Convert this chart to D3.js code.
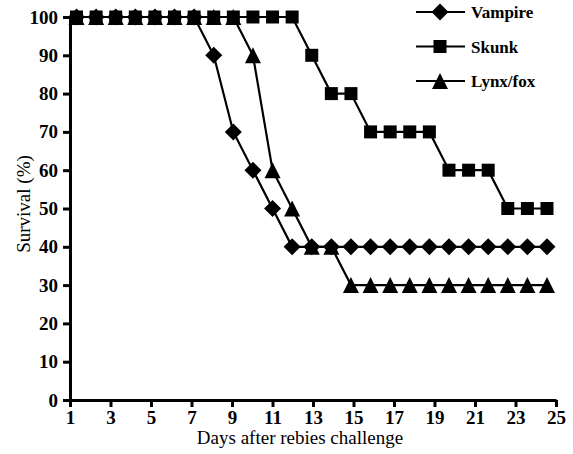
<!DOCTYPE html>
<html>
<head>
<meta charset="utf-8">
<script src="https://cdn.jsdelivr.net/npm/d3@7"></script>
<style>
  body { margin: 0; background: #fff; }
</style>
</head>
<body>
<script>
const days = d3.range(1, 26)
const vampire = [100, 100, 100, 100, 100, 100, 100, 90, 70, 60, 50, 40, 40, 40, 40, 40, 40, 40, 40, 40, 40, 40, 40, 40, 40]
const skunk = [100, 100, 100, 100, 100, 100, 100, 100, 100, 100, 100, 100, 90, 80, 80, 70, 70, 70, 70, 60, 60, 60, 50, 50, 50]
const lynx = [100, 100, 100, 100, 100, 100, 100, 100, 100, 90, 60, 50, 40, 40, 30, 30, 30, 30, 30, 30, 30, 30, 30, 30, 30]
const xTicks = [1, 3, 5, 7, 9, 11, 13, 15, 17, 19, 21, 23, 25]
const yTicks = [0, 10, 20, 30, 40, 50, 60, 70, 80, 90, 100]

const WIDTH = 573
const HEIGHT = 454
const LEFT = 70
const RIGHT = 556
const TOP = 17
const BOTTOM = 400
const FONT = '"Liberation Serif", "Times New Roman", Times, serif'

// marker shapes (size = width in px)
const diamond = { draw(ctx, s) { const r = s / 2; ctx.moveTo(0, -r); ctx.lineTo(r, 0); ctx.lineTo(0, r); ctx.lineTo(-r, 0); ctx.closePath() } }
const square = { draw(ctx, s) { const r = s / 2; ctx.rect(-r, -r, s, s) } }
const triangle = { draw(ctx, s) { const r = s / 2; ctx.moveTo(0, -r); ctx.lineTo(r, r); ctx.lineTo(-r, r); ctx.closePath() } }

const series = [
  { name: 'Vampire', values: vampire, shape: diamond, size: 17 },
  { name: 'Lynx/fox', values: lynx, shape: triangle, size: 16 },
  { name: 'Skunk', values: skunk, shape: square, size: 13 }
]
const legendOrder = ['Vampire', 'Skunk', 'Lynx/fox']

const svg = d3.select('body').append('svg').attr('width', WIDTH).attr('height', HEIGHT)

// axis scale vs. point positions (points sit on category centres)
const xAxisScale = d3.scaleLinear().domain([1, 25]).range([LEFT, RIGHT])
const x = d3.scalePoint().domain(days).range([76.5, 547])
const y = d3.scaleLinear().domain([0, 100]).range([BOTTOM, TOP])

const axisX = d3.axisBottom(xAxisScale).tickValues(xTicks).tickSize(7).tickSizeOuter(0).tickPadding(4)
svg.append('g')
  .attr('transform', `translate(0, ${BOTTOM})`)
  .call(axisX)
  .attr('font-family', FONT)
  .call(g => g.select('.domain').attr('stroke-width', 3))
  .call(g => g.selectAll('.tick line').attr('stroke-width', 3))
  .call(g => g.selectAll('text').attr('font-family', FONT).attr('font-size', 19).attr('font-weight', 'bold').attr('fill', '#000'))

const axisY = d3.axisLeft(y).tickValues(yTicks).tickSize(7).tickSizeOuter(0).tickPadding(5)
svg.append('g')
  .attr('transform', `translate(${LEFT}, 0)`)
  .call(axisY)
  .attr('font-family', FONT)
  .call(g => g.select('.domain').attr('stroke-width', 3))
  .call(g => g.selectAll('.tick line').attr('stroke-width', 3))
  .call(g => g.selectAll('text').attr('font-family', FONT).attr('font-size', 19).attr('font-weight', 'bold').attr('fill', '#000'))

svg.append('text')
  .attr('x', 300).attr('y', 444)
  .attr('text-anchor', 'middle')
  .attr('font-family', FONT)
  .attr('font-size', 19)
  .text('Days after rebies challenge')

svg.append('text')
  .attr('transform', 'translate(30, 204) rotate(-90)')
  .attr('text-anchor', 'middle')
  .attr('font-family', FONT)
  .attr('font-size', 19)
  .text('Survival (%)')

const line = d3.line().x((d, i) => x(days[i])).y(d => y(d))

series.forEach(s => {
  const g = svg.append('g')
  g.append('path')
    .attr('d', line(s.values))
    .attr('fill', 'none')
    .attr('stroke', '#000')
    .attr('stroke-width', 2.2)
  g.selectAll('path.m')
    .data(s.values)
    .enter()
    .append('path')
    .attr('class', 'm')
    .attr('transform', (d, i) => `translate(${x(days[i])}, ${y(d)})`)
    .attr('d', d3.symbol().type(s.shape).size(s.size))
    .attr('fill', '#000')
})

// legend
const legend = svg.append('g')
legendOrder.forEach((name, i) => {
  const s = series.find(d => d.name === name)
  const ly = 12 + i * 34.5
  legend.append('line')
    .attr('x1', 416).attr('x2', 465)
    .attr('y1', ly).attr('y2', ly)
    .attr('stroke', '#000').attr('stroke-width', 2.2)
  legend.append('path')
    .attr('transform', `translate(440, ${ly})`)
    .attr('d', d3.symbol().type(s.shape).size(s.size))
    .attr('fill', '#000')
  legend.append('text')
    .attr('x', 471).attr('y', ly + 6)
    .attr('font-family', FONT)
    .attr('font-size', 17)
    .attr('font-weight', 'bold')
    .text(name)
})
</script>
</body>
</html>
